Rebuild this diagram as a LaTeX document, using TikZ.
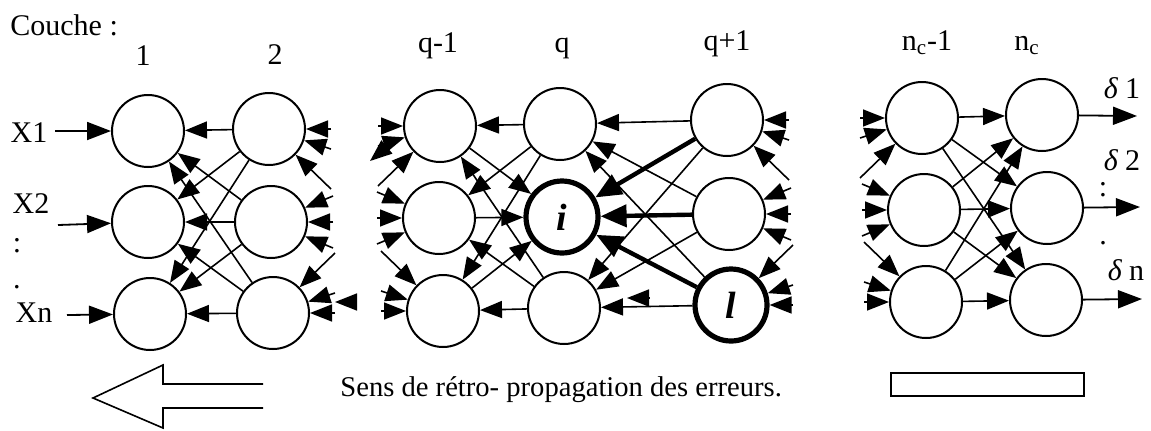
\documentclass[tikz,border=0pt]{standalone}
\usepackage{fontspec}
\setmainfont{Liberation Serif}
\usetikzlibrary{arrows.meta,calc}
\begin{document}
\begin{tikzpicture}[x=0.5pt,y=-0.5pt,
  neuron/.style={circle,draw,line width=1pt,minimum size=36pt,inner sep=0pt},
  hot/.style={neuron,line width=2.6pt,font=\fontsize{19}{22}\selectfont\bfseries\itshape},
  arr/.style={line width=0.8pt,-{Triangle[length=11pt,width=8.5pt]}},
  bigarr/.style={line width=2.2pt,-{Triangle[length=13pt,width=11pt]}},
  io/.style={line width=0.9pt,-{Triangle[length=12pt,width=9pt]}},
  lbl/.style={font=\fontsize{15}{18}\selectfont,inner sep=0pt,anchor=base},
  hollow/.style={line width=0.8pt,line join=miter}
]
\useasboundingbox (0,0) rectangle (1151,430);

% neurons
\node[neuron] (a1) at (148,131) {};
\node[neuron] (a2) at (148,222) {};
\node[neuron] (a3) at (150,314) {};
\node[neuron] (b1) at (269,129) {};
\node[neuron] (b2) at (271,222) {};
\node[neuron] (b3) at (273,313) {};
\node[neuron] (c1) at (440,126) {};
\node[neuron] (c2) at (439,218) {};
\node[neuron] (c3) at (443,311) {};
\node[neuron] (d1) at (560,124) {};
\node[hot]    (d2) at (562,217) {i};
\node[neuron] (d3) at (564,308) {};
\node[neuron] (e1) at (727,120) {};
\node[neuron] (e2) at (729,214) {};
\node[hot]    (e3) at (731,305) {l};
\node[neuron] (f1) at (922,118) {};
\node[neuron] (f2) at (924,210) {};
\node[neuron] (f3) at (926,302) {};
\node[neuron] (g1) at (1042,115) {};
\node[neuron] (g2) at (1047,208) {};
\node[neuron] (g3) at (1046,300) {};

% layer labels
\node[lbl,anchor=base west] (couche) at (10,35) {Couche :};
\node[lbl] (l1) at (143,65) {1};
\node[lbl] (l2) at (275,64) {2};
\node[lbl] (lq1) at (438,52) {q-1};
\node[lbl] (lq) at (562,52) {q};
\node[lbl] (lqp) at (727,50) {q+1};
\node[lbl] (lnc1) at (927,50) {n\textsubscript{c}-1};
\node[lbl] (lnc) at (1027,50) {n\textsubscript{c}};

% layer 2 -> layer 1 (backward)
\foreach \s in {1,2,3}{\foreach \t in {1,2,3}{\draw[arr] (b\s) -- (a\t);}}
% q-1 / q
\foreach \t in {1,2,3}{
  \draw[arr] (c\t) -- (d2);
  \draw[arr] (d1) -- (c\t);
  \draw[arr] (d3) -- (c\t);
}
% q / q+1
\foreach \s in {1,2,3}{
  \draw[arr] (e\s) -- (d1);
  \draw[arr] (e\s) -- (d3);
  \draw[bigarr] (e\s) -- (d2);
}
% nc-1 -> nc
\foreach \s in {1,2,3}{\foreach \t in {1,2,3}{\draw[arr] (f\s) -- (g\t);}}

% stubs into the gaps
\foreach \n/\dx in {b/62,e/62,c/-62,f/-62}{
  \foreach \r/\dy in {1/0,1/20,1/60,2/-26,2/0,2/26,3/-60,3/-20,3/0}{
    \coordinate (s\n\r\dy) at ($(\n\r)+(\dx,\dy)$);
    \draw[arr] (s\n\r\dy) -- (\n\r);
  }
}

% stray arrowheads
\coordinate (xa1) at (355,302); \coordinate (xa2) at (335,302);
\draw[arr] (xa1) -- (xa2);
\coordinate (xb1) at (394,141); \coordinate (xb2) at (370,161);
\draw[arr] (xb1) -- (xb2);
\coordinate (xc1) at (649,298); \coordinate (xc2) at (627,298);
\draw[arr] (xc1) -- (xc2);

% inputs
\node[lbl] (x1) at (29,142) {X1};
\node[lbl] (x2) at (31,213) {X2};
\node[lbl] (dx1) at (17,252) {:};
\node[lbl] (dx2) at (17,288) {.};
\node[lbl] (xn) at (34,322) {Xn};
\coordinate (in1) at (55,131);
\coordinate (in2) at (58,225);
\coordinate (in3) at (67,315);
\draw[io] (in1) -- (a1);
\draw[io] (in2) -- (a2);
\draw[io] (in3) -- (a3);

% outputs
\coordinate (o1) at (1137,116);
\coordinate (o2) at (1140,207);
\coordinate (o3) at (1142,299);
\draw[io] (g1) -- (o1);
\draw[io] (g2) -- (o2);
\draw[io] (g3) -- (o3);
\node[lbl] (d1l) at (1122,98) {{\itshape δ} 1};
\node[lbl] (d2l) at (1122,170) {{\itshape δ} 2};
\node[lbl] (dd1) at (1103,196) {:};
\node[lbl] (dd2) at (1103,244) {.};
\node[lbl] (dnl) at (1126,280) {{\itshape δ} n};

% bottom
\draw[hollow] (263,384) -- (163,384) -- (163,365) -- (93,398) -- (163,428) -- (163,408) -- (263,408);
\node[lbl,anchor=base west,font=\fontsize{14.3}{17}\selectfont] (sens) at (340,396) {Sens de rétro- propagation des erreurs.};
\node[draw,line width=0.8pt,minimum width=96.5pt,minimum height=11.5pt,inner sep=0pt,anchor=north west] (box) at (890,372) {};
\end{tikzpicture}
\end{document}
